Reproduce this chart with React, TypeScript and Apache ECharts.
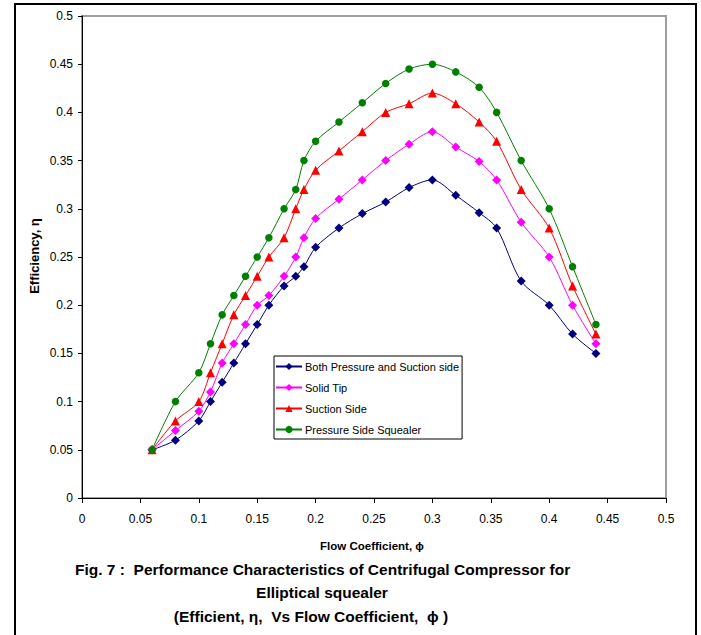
import React, { useEffect, useRef } from "react";
import * as echarts from "echarts";

const flowCoeff = [0.06, 0.08, 0.1, 0.11, 0.12, 0.13, 0.14, 0.15, 0.16, 0.173, 0.183, 0.19, 0.2, 0.22, 0.24, 0.26, 0.28, 0.3, 0.32, 0.34, 0.355, 0.376, 0.4, 0.42, 0.44];
const bothSide = [0.05, 0.06, 0.08, 0.1, 0.12, 0.14, 0.16, 0.18, 0.2, 0.22, 0.23, 0.24, 0.26, 0.28, 0.295, 0.307, 0.322, 0.33, 0.314, 0.296, 0.28, 0.225, 0.2, 0.17, 0.15];
const solidTip = [0.05, 0.07, 0.09, 0.11, 0.14, 0.16, 0.18, 0.2, 0.21, 0.23, 0.25, 0.27, 0.29, 0.31, 0.33, 0.35, 0.367, 0.38, 0.364, 0.349, 0.33, 0.286, 0.25, 0.2, 0.16];
const suctionSide = [0.05, 0.08, 0.1, 0.13, 0.16, 0.19, 0.21, 0.23, 0.25, 0.27, 0.3, 0.32, 0.34, 0.36, 0.38, 0.4, 0.409, 0.42, 0.409, 0.39, 0.37, 0.32, 0.28, 0.22, 0.17];
const pressureSide = [0.05, 0.1, 0.13, 0.16, 0.19, 0.21, 0.23, 0.25, 0.27, 0.3, 0.32, 0.35, 0.37, 0.39, 0.41, 0.43, 0.445, 0.45, 0.442, 0.426, 0.4, 0.35, 0.3, 0.24, 0.18];

const seriesNames = ["Both Pressure and Suction side", "Solid Tip", "Suction Side", "Pressure Side Squealer"];
const seriesColors = ["#000080", "#ff00ff", "#ff0000", "#008000"];
const seriesSymbols = ["diamond", "diamond", "triangle", "circle"];
const seriesValues = [bothSide, solidTip, suctionSide, pressureSide];

const xAxisTitle = "Flow Coefficient, ϕ";
const yAxisTitle = "Efficiency, η";
const captionLine1 = "Fig. 7 :  Performance Characteristics of Centrifugal Compressor for";
const captionLine2 = "Elliptical squealer";
const captionLine3 = "(Efficient, η,  Vs Flow Coefficient,  ϕ )";

const FONT = '"Liberation Sans", Arial, sans-serif';

export default function App() {
  const ref = useRef<HTMLDivElement>(null);
  useEffect(() => {
    if (!ref.current) return;
    const chart = echarts.init(ref.current, null, { renderer: "svg" });
    const series = seriesNames.map((name, i) => ({
      name,
      type: "line",
      data: flowCoeff.map((x, j) => [x, seriesValues[i][j]]),
      smooth: 0.3,
      symbol: seriesSymbols[i],
      symbolSize: seriesSymbols[i] === "circle" ? 7.5 : seriesSymbols[i] === "triangle" ? 9 : 9,
      showSymbol: true,
      lineStyle: { color: seriesColors[i], width: 1 },
      itemStyle: { color: seriesColors[i] },
      z: 2 + i,
    }));
    chart.setOption({
      animation: false,
      backgroundColor: "#ffffff",
      textStyle: { fontFamily: FONT },
      grid: {
        left: 82,
        top: 16,
        right: 35,
        bottom: 137,
        show: true,
        borderColor: "#a0a0a0",
        borderWidth: 2,
        backgroundColor: "transparent",
      },
      xAxis: {
        type: "value",
        min: 0,
        max: 0.5,
        interval: 0.05,
        axisLine: { show: true, lineStyle: { color: "#000", width: 1 } },
        axisTick: { show: true, length: 5, lineStyle: { color: "#000" } },
        axisLabel: { color: "#000", fontSize: 12, margin: 15, fontFamily: FONT },
        splitLine: { show: false },
      },
      yAxis: {
        type: "value",
        min: 0,
        max: 0.5,
        interval: 0.05,
        axisLine: { show: true, lineStyle: { color: "#000", width: 1 } },
        axisTick: { show: true, length: 4, lineStyle: { color: "#000" } },
        axisLabel: { color: "#000", fontSize: 12, margin: 9, fontFamily: FONT },
        splitLine: { show: false },
      },
      legend: {
        show: true,
        orient: "vertical",
        left: 274,
        top: 356,
        padding: [5, 3, 4, 1],
        itemGap: 10,
        itemWidth: 26,
        itemHeight: 9,
        borderColor: "#000",
        borderWidth: 1,
        backgroundColor: "#fff",
        textStyle: { color: "#000", fontSize: 11, fontFamily: FONT, padding: [0, 0, 0, -2] },
        data: seriesNames,
      },
      graphic: [
        {
          type: "polyline",
          shape: { points: [[15, 635], [15, 4], [696, 4], [696, 635]] },
          style: { stroke: "#000", lineWidth: 2, fill: "none" },
          silent: true,
        },
        {
          type: "text",
          x: 372,
          y: 546,
          style: { text: xAxisTitle, font: `bold 11.5px ${FONT}`, fill: "#000", align: "center", verticalAlign: "middle" },
        },
        {
          type: "text",
          x: 34,
          y: 256,
          rotation: Math.PI / 2,
          style: { text: yAxisTitle, font: `bold 13px ${FONT}`, fill: "#000", align: "center", verticalAlign: "middle" },
        },
        {
          type: "text",
          x: 75,
          y: 569,
          style: { text: captionLine1, font: `bold 15.5px ${FONT}`, fill: "#000", align: "left", verticalAlign: "middle" },
        },
        {
          type: "text",
          x: 322,
          y: 592,
          style: { text: captionLine2, font: `bold 15.5px ${FONT}`, fill: "#000", align: "center", verticalAlign: "middle" },
        },
        {
          type: "text",
          x: 311,
          y: 616,
          style: { text: captionLine3, font: `bold 15.5px ${FONT}`, fill: "#000", align: "center", verticalAlign: "middle" },
        },
      ],
      series,
    });
    return () => chart.dispose();
  }, []);
  return <div ref={ref} style={{ position: "fixed", left: 0, top: 0, width: 701, height: 635 }} />;
}
